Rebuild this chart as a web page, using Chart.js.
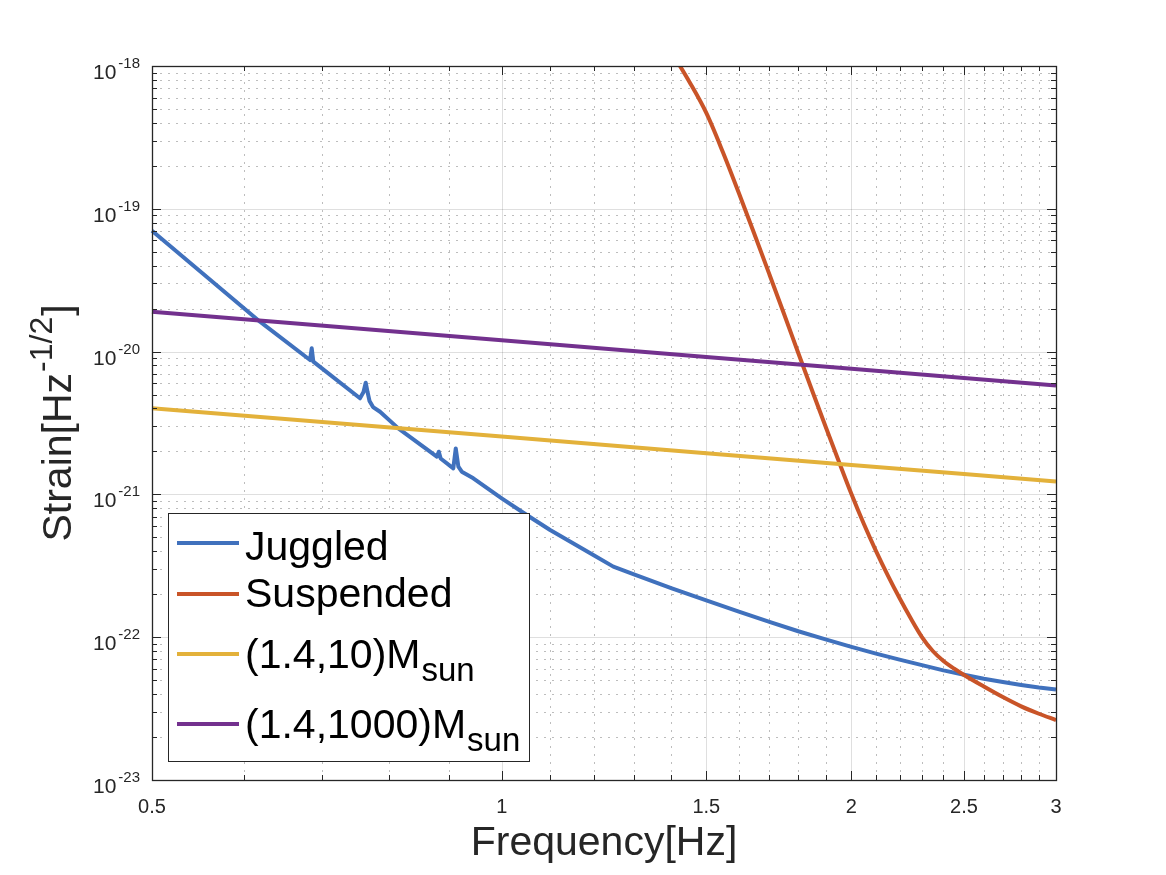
<!DOCTYPE html>
<html>
<head>
<meta charset="utf-8">
<script src="https://cdn.jsdelivr.net/npm/chart.js@4.4.1/dist/chart.umd.min.js"></script>
<style>
html,body{margin:0;padding:0;background:#ffffff;}
#wrap{width:1166px;height:875px;position:relative;background:#ffffff;}
</style>
</head>
<body>
<div id="wrap"><canvas id="c"></canvas></div>
<script>
// ---------------- data ----------------
const freqJuggled = [0.5, 0.6193, 0.6839, 0.6862, 0.6884, 0.7551, 0.7604, 0.7637, 0.7665, 0.7695, 0.7749, 0.7857, 0.8147,
  0.8793, 0.8828, 0.8860, 0.9085, 0.9129, 0.9177, 0.9239, 0.9453, 1.0, 1.0509, 1.1007, 1.1991, 1.2476, 1.2980, 1.401,
  1.5, 1.6, 1.7, 1.8, 1.9, 2.0, 2.1, 2.2, 2.3, 2.4, 2.5, 2.6, 2.7, 2.8, 2.9, 3.0];
const strainJuggled = [7.03e-20, 1.62e-20, 8.73e-21, 1.054e-20, 8.50e-21, 4.71e-21, 5.21e-21, 6.06e-21, 5.21e-21, 4.51e-21, 4.09e-21, 3.79e-21, 2.90e-21,
  1.837e-21, 1.99e-21, 1.784e-21, 1.523e-21, 2.10e-21, 1.563e-21, 1.442e-21, 1.296e-21, 9.39e-22, 7.17e-22, 5.63e-22, 3.76e-22, 3.12e-22, 2.77e-22, 2.20e-22,
  1.813e-22, 1.511e-22, 1.282e-22, 1.101e-22, 9.65e-23, 8.55e-23, 7.68e-23, 6.96e-23, 6.37e-23, 5.86e-23, 5.46e-23, 5.12e-23, 4.85e-23, 4.63e-23, 4.44e-23, 4.30e-23];

const freqSuspended = [1.4, 1.45, 1.5, 1.55, 1.6, 1.65, 1.7, 1.75, 1.8, 1.85, 1.9, 1.95, 2.0, 2.05, 2.1, 2.15, 2.2, 2.25,
  2.3, 2.35, 2.4, 2.45, 2.5, 2.6, 2.7, 2.8, 2.9, 3.0];
const strainSuspended = [1.253e-18, 7.79e-19, 4.69e-19, 2.50e-19, 1.29e-19, 6.66e-20, 3.47e-20, 1.833e-20, 9.78e-21, 5.34e-21, 2.99e-21, 1.714e-21, 1.006e-21, 6.20e-22, 4.01e-22, 2.70e-22, 1.88e-22, 1.352e-22,
  1.003e-22, 8.0e-23, 6.81e-23, 6.04e-23, 5.44e-23, 4.52e-23, 3.81e-23, 3.28e-23, 2.91e-23, 2.63e-23];

const freqBinary = [0.5, 1, 1.5, 2, 2.5, 3];
const strainBinary10 = [4.01e-21, 2.54e-21, 1.945e-21, 1.607e-21, 1.387e-21, 1.231e-21];
const strainBinary1000 = [1.903e-20, 1.20e-20, 9.16e-21, 7.58e-21, 6.53e-21, 5.78e-21];

const seriesNames = ['Juggled', 'Suspended', '(1.4,10)M', '(1.4,1000)M'];
const seriesSubscripts = ['', '', 'sun', 'sun'];
const seriesColors = ['#4071BD', '#C95428', '#E3B13A', '#73318E'];

const xTickValues = [0.5, 1, 1.5, 2, 2.5, 3];
const xTickLabels = ['0.5', '1', '1.5', '2', '2.5', '3'];
const xMinorTickValues = [0.6, 0.7, 0.8, 0.9, 1.1, 1.2, 1.3, 1.4, 1.6, 1.7, 1.8, 1.9, 2.1, 2.2, 2.3, 2.4, 2.6, 2.7, 2.8, 2.9];
const yTickExponents = [-23, -22, -21, -20, -19, -18];
const yMinorMultipliers = [2, 3, 4, 5, 6, 7, 8, 9];

const xTitle = 'Frequency[Hz]';
const yTitleParts = ['Strain[Hz', '-1/2', ']'];

// ---------------- drawing helpers ----------------
const FONT = '"Liberation Sans", Arial, Helvetica, sans-serif';
const AX = '#262626';

function pts(xs, ys) { return xs.map((f, i) => ({ x: f, y: ys[i] })); }

const matlabAxes = {
  id: 'matlabAxes',
  beforeDatasetsDraw(chart) {
    const { ctx, chartArea: a, scales } = chart;
    const x = scales.x, y = scales.y;
    ctx.save();
    ctx.fillStyle = '#ffffff';
    ctx.fillRect(a.left, a.top, a.right - a.left, a.bottom - a.top);
    // minor grid (dotted)
    ctx.lineWidth = 1;
    ctx.strokeStyle = 'rgba(38,38,38,0.30)';
    ctx.setLineDash([2, 6]);
    ctx.beginPath();
    xMinorTickValues.forEach(v => {
      const p = Math.round(x.getPixelForValue(v)) + 0.5;
      ctx.moveTo(p, a.bottom); ctx.lineTo(p, a.top);
    });
    yTickExponents.slice(0, -1).forEach(e => {
      yMinorMultipliers.forEach(m => {
        const p = Math.round(y.getPixelForValue(m * Math.pow(10, e))) + 0.5;
        ctx.moveTo(a.left, p); ctx.lineTo(a.right, p);
      });
    });
    ctx.stroke();
    // major grid (solid, light)
    ctx.setLineDash([]);
    ctx.strokeStyle = 'rgba(38,38,38,0.15)';
    ctx.beginPath();
    xTickValues.forEach(v => {
      const p = Math.round(x.getPixelForValue(v)) + 0.5;
      ctx.moveTo(p, a.bottom); ctx.lineTo(p, a.top);
    });
    yTickExponents.forEach(e => {
      const p = Math.round(y.getPixelForValue(Math.pow(10, e))) + 0.5;
      ctx.moveTo(a.left, p); ctx.lineTo(a.right, p);
    });
    ctx.stroke();
    ctx.restore();
  },
  afterDatasetsDraw(chart) {
    const { ctx, chartArea: a, scales } = chart;
    const x = scales.x, y = scales.y;
    ctx.save();
    // ticks (inward, all four sides)
    ctx.strokeStyle = AX;
    ctx.lineWidth = 1;
    ctx.beginPath();
    const xt = (v, len) => {
      const p = Math.round(x.getPixelForValue(v)) + 0.5;
      ctx.moveTo(p, a.bottom); ctx.lineTo(p, a.bottom - len);
      ctx.moveTo(p, a.top); ctx.lineTo(p, a.top + len);
    };
    const yt = (v, len) => {
      const p = Math.round(y.getPixelForValue(v)) + 0.5;
      ctx.moveTo(a.left, p); ctx.lineTo(a.left + len, p);
      ctx.moveTo(a.right, p); ctx.lineTo(a.right - len, p);
    };
    xTickValues.forEach(v => xt(v, 9));
    xMinorTickValues.forEach(v => xt(v, 5));
    yTickExponents.forEach(e => yt(Math.pow(10, e), 9));
    yTickExponents.slice(0, -1).forEach(e => yMinorMultipliers.forEach(m => yt(m * Math.pow(10, e), 5)));
    ctx.stroke();
    // axes box
    ctx.lineWidth = 1.3;
    ctx.strokeRect(Math.round(a.left) + 0.5, Math.round(a.top) + 0.5, Math.round(a.right - a.left), Math.round(a.bottom - a.top));

    // x tick labels
    ctx.fillStyle = AX;
    ctx.font = '20px ' + FONT;
    ctx.textAlign = 'center';
    ctx.textBaseline = 'alphabetic';
    xTickValues.forEach((v, i) => {
      ctx.fillText(xTickLabels[i], x.getPixelForValue(v), a.bottom + 33);
    });
    // y tick labels 10^e
    yTickExponents.forEach(e => {
      const p = y.getPixelForValue(Math.pow(10, e));
      const right = a.left - 12;
      ctx.font = '15px ' + FONT;
      ctx.textAlign = 'right';
      const sup = String(e);
      const sw = ctx.measureText(sup).width;
      ctx.fillText(sup, right, p + 2);
      ctx.font = '21px ' + FONT;
      ctx.fillText('10', right - sw - 2, p + 13);
    });

    // x title
    ctx.font = '41px ' + FONT;
    ctx.textAlign = 'center';
    ctx.fillText(xTitle, (a.left + a.right) / 2, 855);

    // y title (rotated, with superscript)
    ctx.save();
    ctx.translate(71, (a.top + a.bottom) / 2);
    ctx.rotate(-Math.PI / 2);
    ctx.textAlign = 'left';
    ctx.font = '41px ' + FONT;
    const w1 = ctx.measureText(yTitleParts[0]).width;
    const w3 = ctx.measureText(yTitleParts[2]).width;
    ctx.font = '32px ' + FONT;
    const w2 = ctx.measureText(yTitleParts[1]).width;
    let sx = -(w1 + w2 + w3 + 2) / 2;
    ctx.font = '41px ' + FONT;
    ctx.fillText(yTitleParts[0], sx, 0);
    sx += w1 + 1;
    ctx.font = '32px ' + FONT;
    ctx.fillText(yTitleParts[1], sx, -19);
    sx += w2 + 1;
    ctx.font = '41px ' + FONT;
    ctx.fillText(yTitleParts[2], sx, 0);
    ctx.restore();

    // legend
    const lx0 = 168.5, ly0 = 513.5, lx1 = 529.5, ly1 = 761.5;
    ctx.fillStyle = '#ffffff';
    ctx.fillRect(lx0, ly0, lx1 - lx0, ly1 - ly0);
    ctx.strokeStyle = AX;
    ctx.lineWidth = 1;
    ctx.strokeRect(lx0, ly0, lx1 - lx0, ly1 - ly0);
    const rowLineY = [543, 594, 654, 724];
    const rowBase = [560, 607, 668, 738];
    chart.data.datasets.forEach((ds, i) => {
      ctx.strokeStyle = ds.borderColor;
      ctx.lineWidth = 4;
      ctx.beginPath();
      ctx.moveTo(177, rowLineY[i]); ctx.lineTo(239, rowLineY[i]);
      ctx.stroke();
      ctx.fillStyle = '#000000';
      ctx.textAlign = 'left';
      ctx.font = '41px ' + FONT;
      ctx.fillText(seriesNames[i], 245, rowBase[i]);
      if (seriesSubscripts[i]) {
        const w = ctx.measureText(seriesNames[i]).width;
        ctx.font = '33px ' + FONT;
        ctx.fillText(seriesSubscripts[i], 245 + w + 1, rowBase[i] + 13);
      }
    });
    ctx.restore();
  }
};

const datasets = [
  { label: seriesNames[0], data: pts(freqJuggled, strainJuggled), borderColor: seriesColors[0], order: 3, tension: 0 },
  { label: seriesNames[1], data: pts(freqSuspended, strainSuspended), borderColor: seriesColors[1], order: 2, cubicInterpolationMode: 'monotone' },
  { label: seriesNames[2] + seriesSubscripts[2], data: pts(freqBinary, strainBinary10), borderColor: seriesColors[2], order: 1, tension: 0 },
  { label: seriesNames[3] + seriesSubscripts[3], data: pts(freqBinary, strainBinary1000), borderColor: seriesColors[3], order: 0, tension: 0 }
].map(d => Object.assign({ borderWidth: 4, pointRadius: 0, pointHoverRadius: 0, fill: false, borderJoinStyle: 'round', clip: { left: 2, top: 0, right: 2, bottom: 2 } }, d));

new Chart(document.getElementById('c'), {
  type: 'line',
  data: { datasets },
  options: {
    responsive: true,
    maintainAspectRatio: false,
    animation: false,
    events: [],
    layout: { padding: { left: 152, right: 110, top: 66, bottom: 95 } },
    plugins: { legend: { display: false }, tooltip: { enabled: false }, title: { display: false } },
    scales: {
      x: { type: 'logarithmic', min: 0.5, max: 3, display: false },
      y: { type: 'logarithmic', min: 1e-23, max: 1e-18, display: false }
    }
  },
  plugins: [matlabAxes]
});
</script>
</body>
</html>
